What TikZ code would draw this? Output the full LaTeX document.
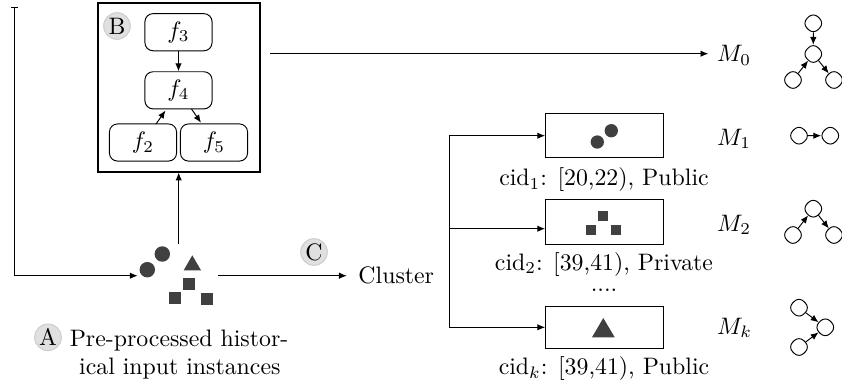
\documentclass[tikz,border=0pt]{standalone}
\usetikzlibrary{arrows.meta}
\definecolor{darkfill}{HTML}{404040}
\tikzset{
  arr/.style={-{Latex[length=3.3pt,width=2.7pt]}},
  garr/.style={arr,shorten >=-1.1pt,shorten <=-1.1pt},
  fbox/.style={draw,rounded corners=3.4pt,minimum width=28.2pt,minimum height=15.6pt,inner sep=0pt,line width=0.4pt},
  mbox/.style={draw,minimum width=49.3pt,inner sep=0pt,line width=0.4pt},
  tag/.style={circle,draw=black!20,fill=black!12,line width=0.4pt,minimum size=11.2pt,inner sep=0pt},
  txt/.style={inner sep=0pt,anchor=base},
  txtw/.style={inner sep=0pt,anchor=base west},
  dot/.style={circle,fill=darkfill,inner sep=0pt},
  sq/.style={rectangle,fill=darkfill,inner sep=0pt},
  gnode/.style={rectangle,rotate=45,rounded corners=2.8pt,draw,minimum size=6.6pt,inner sep=0pt,line width=0.4pt},
}
\begin{document}
\begin{tikzpicture}[x=0.42pt,y=-0.42pt]
\useasboundingbox (0,0) rectangle (842,383);
% box B
\node[draw,line width=0.85pt,minimum width=67.8pt,minimum height=70.6pt,inner sep=0pt] (boxB) at (178.85,87.5) {};
\node[tag] (tagB) at (117,26) {B};
\node[fbox] (f3) at (178.5,32.2) {$f_3$};
\node[fbox] (f4) at (178.5,90.3) {$f_4$};
\node[fbox] (f2) at (143,142.5) {$f_2$};
\node[fbox] (f5) at (214,142.5) {$f_5$};
\draw[arr] (f3) -- (f4);
\coordinate (f2out) at (156,124);
\coordinate (f4in) at (165.5,110.5);
\coordinate (f4out) at (191.5,109);
\coordinate (f5in) at (201,122.7);
\draw[arr] (f2out) -- (f4in);
\draw[arr] (f4out) -- (f5in);
% input instances
\node[dot,minimum size=6.5pt] (c1) at (147.3,269.7) {};
\node[dot,minimum size=6.5pt] (c2) at (162.3,254) {};
\fill[darkfill] (192.3,255.3) -- (201,270.3) -- (183.7,270.3) -- cycle;
\node[sq,minimum size=5pt] (s1) at (189,284) {};
\node[sq,minimum size=5pt] (s2) at (175.3,298) {};
\node[sq,minimum size=5pt] (s3) at (206.7,299.3) {};
% feedback line
\coordinate (fbtop) at (14.7,7);
\coordinate (fbbot) at (14.7,275.7);
\draw[{Bar[width=2.8pt,length=0.4pt]}-] (fbtop) -- (fbbot);
\draw[arr,shorten >=0.6pt] (fbbot) -- (fbbot -| c1.west);
% up arrow
\coordinate (upstart) at (178.7,244);
\draw[arr] (upstart) -- (upstart |- boxB.south);
% M labels
\node[txtw] (M0) at (716.7,61.7) {$M_0$};
\node[txtw] (M1) at (716.7,145) {$M_1$};
\node[txtw] (M2) at (716.7,231) {$M_2$};
\node[txtw] (Mk) at (716.7,334) {$M_k$};
\coordinate (m0start) at (270,53.7);
\draw[arr,shorten >=3.5pt] (m0start) -- (m0start -| M0.west);
% cluster
\node[txtw] (cluster) at (358,283) {Cluster};
\coordinate (cstart) at (218,275.7);
\draw[arr,shorten >=4.7pt] (cstart) -- (cstart -| cluster.west);
\node[tag] (tagC) at (314,252) {C};
% caption A
\node[tag] (tagA) at (48,337.3) {A};
\node[txtw] (capa) at (69.3,346) {Pre-processed histor-};
\node[txtw] (capb) at (78.7,374) {ical input instances};
% model boxes
\node[mbox,minimum height=18.5pt] (b1) at (604.3,135.7) {};
\node[mbox,minimum height=18.9pt] (b2) at (604.3,221.8) {};
\node[mbox,minimum height=17.6pt] (b3) at (604.3,327.3) {};
\coordinate (treetop) at (449,135.7);
\coordinate (treemid) at (449,228.7);
\coordinate (treebot) at (449,327.3);
\draw (treetop) -- (treebot);
\draw[arr] (treetop) -- (b1.west);
\draw[arr] (treemid) -- (treemid -| b2.west);
\draw[arr] (treebot) -- (b3.west);
\node[dot,minimum size=5.6pt] (b1a) at (597.3,142) {};
\node[dot,minimum size=5.6pt] (b1b) at (611.3,130.7) {};
\node[sq,minimum size=4.2pt] (b2a) at (602.7,216.3) {};
\node[sq,minimum size=4.2pt] (b2b) at (591.3,230) {};
\node[sq,minimum size=4.2pt] (b2c) at (616,230) {};
\fill[darkfill] (603.3,318) -- (614.7,337.3) -- (592,337.3) -- cycle;
\node[txt] (l1) at (604,185.7) {cid$_1$: [20,22), Public};
\node[txt] (l2) at (604,270) {cid$_2$: [39,41), Private};
\node[txt] (dots) at (604,291.7) {....};
\node[txt] (lk) at (604,374.7) {cid$_k$: [39,41), Public};
% small graphs
\node[gnode] (g0a) at (813.3,23.3) {};
\node[gnode] (g0b) at (813.3,54) {};
\node[gnode] (g0c) at (793,80) {};
\node[gnode] (g0d) at (834,80) {};
\draw[garr] (g0a) -- (g0b);
\draw[arr] (g0c) -- (g0b);
\draw[arr] (g0b) -- (g0d);
\node[gnode] (g1a) at (799,135.7) {};
\node[gnode] (g1b) at (830.3,135.7) {};
\draw[garr] (g1a) -- (g1b);
\node[gnode] (g2a) at (813.3,208.7) {};
\node[gnode] (g2b) at (793,235) {};
\node[gnode] (g2c) at (834,235) {};
\draw[arr] (g2b) -- (g2a);
\draw[arr] (g2a) -- (g2c);
\node[gnode] (gka) at (799,307.7) {};
\node[gnode] (gkb) at (825.3,327.3) {};
\node[gnode] (gkc) at (799,347) {};
\draw[arr] (gka) -- (gkb);
\draw[arr] (gkc) -- (gkb);
\end{tikzpicture}
\end{document}
